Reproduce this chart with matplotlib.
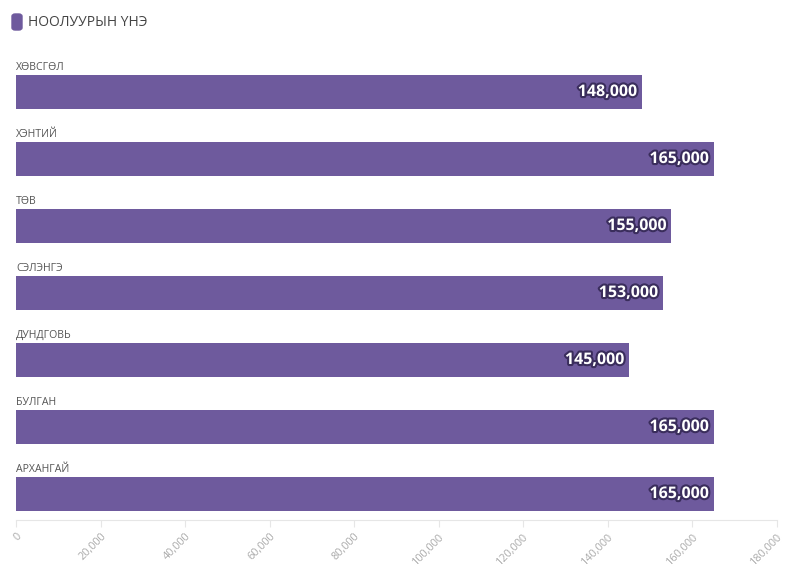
import matplotlib
matplotlib.use("Agg")
import matplotlib.pyplot as plt
import matplotlib.patheffects as pe
from matplotlib.patches import FancyBboxPatch

categories = ["ХӨВСГӨЛ", "ХЭНТИЙ", "ТӨВ", "СЭЛЭНГЭ", "ДУНДГОВЬ", "БУЛГАН", "АРХАНГАЙ"]
values = [148000, 165000, 155000, 153000, 145000, 165000, 165000]
series_name = "НООЛУУРЫН ҮНЭ"
xticks = [0, 20000, 40000, 60000, 80000, 100000, 120000, 140000, 160000, 180000]

color = "#6e5a9d"
W, H = 796, 575
fig = plt.figure(figsize=(W / 100, H / 100), dpi=100)
top_px, bot_px = 55, 520
ax = fig.add_axes([16 / W, 1 - bot_px / H, (777 - 16) / W, (bot_px - top_px) / H])

pos = list(range(len(categories)))
ax.barh(pos, values, height=34 / 67, color=color, zorder=2)
ax.set_xlim(0, 180000)
ax.set_ylim(6 + (bot_px - 494) / 67, -(92 - top_px) / 67)

for i, (c, v) in enumerate(zip(categories, values)):
    ax.text(0, i - 0.285, c, ha="left", va="bottom", fontsize=7.6,
            color="#555555", family="Open Sans")
    ax.annotate(f"{v:,}", xy=(v, i), xytext=(-3, 0), textcoords="offset points",
                ha="right", va="center", fontsize=11.5, fontweight="bold",
                color="white", family="Open Sans",
                path_effects=[pe.withStroke(linewidth=3, foreground="#3a2d5c")])

ax.set_yticks([])
ax.set_xticks(xticks)
ax.set_xticklabels([f"{t:,}" for t in xticks], rotation=45, ha="right",
                   rotation_mode="anchor", fontsize=7.8, color="#aaaaaa", family="Open Sans")
ax.tick_params(axis="x", length=5, color="#e6e6e6", pad=3)
for s in ["top", "right", "left"]:
    ax.spines[s].set_visible(False)
ax.spines["bottom"].set_color("#e6e6e6")

# legend
fig.patches.append(FancyBboxPatch((12 / W, 1 - 30 / H), 10 / W, 16 / H,
                                  boxstyle="round,pad=0,rounding_size=0.004",
                                  transform=fig.transFigure, color=color))
fig.text(28 / W, 1 - 22 / H, series_name, ha="left", va="center", fontsize=10,
         color="#444444", family="Open Sans")

fig.savefig("out.png", dpi=100)
